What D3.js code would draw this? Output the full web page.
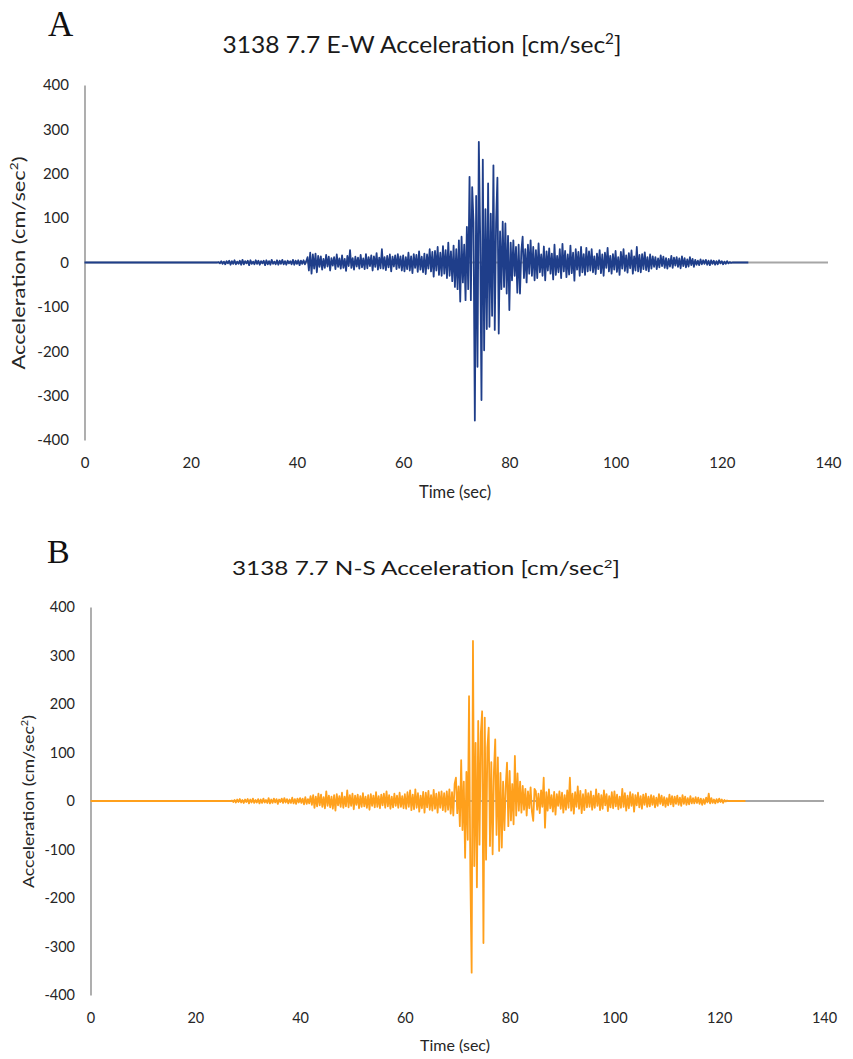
<!DOCTYPE html>
<html>
<head>
<meta charset="utf-8">
<script src="https://cdn.jsdelivr.net/npm/d3@7"></script>
<style>
  body { margin: 0; background: #fff; }
  svg { display: block; font-family: Lato, "Open Sans", sans-serif; }
</style>
</head>
<body>
<div id="chart"></div>
<script>
// Time axis and value axis ticks
const xTicks = [0, 20, 40, 60, 80, 100, 120, 140];
const yTicks = [-400, -300, -200, -100, 0, 100, 200, 300, 400];

// Records are sampled every 0.25 s from 25 s to 125 s (zero before and after)
const timeStart = 25;
const timeStep = 0.25;

// E-W acceleration (cm/sec^2)
const ewAccel = [
  // 25-42 s
  0, 1, -2, 3, -3, 2, -4, 3, -2, 4,
  -5, 3, -3, 5, -4, 2, -3, 4, -5, 6,
  -4, 3, -2, 4, -6, 5, -3, 2, -4, 5,
  -3, 4, -5, 3, -2, 4, -6, 5, -4, 3,
  -5, 6, -3, 2, -4, 5, -5, 4, -3, 6,
  -4, 3, -5, 4, -2, 3, -4, 6, -5, 4,
  -3, 5, -6, 4, -3, 5, -4, 3,
  // 42-60 s
  12, -18, 22, -25, 18, -14, 20, -22, 15, -10,
  14, -16, 8, -12, 17, -9, 13, -18, 10, -7,
  12, -15, 18, -10, 9, -14, 16, -12, 8, -19,
  15, -8, 28, -12, 10, -16, 13, -9, 11, -14,
  17, -11, 9, -15, 19, -13, 12, -8, 16, -18,
  14, -10, 21, -16, 11, -13, 30, -14, 12, -17,
  15, -11, 18, -20, 13, -9, 16, -15, 19, -12,
  14, -18,
  // 60-68 s
  16, -20, 12, -15, 22, -18, 14, -24, 19, -12,
  17, -21, 25, -16, 13, -22, 20, -26, 18, -14,
  30, -20, 24, -32, 26, -18, 35, -28, 22, -30,
  37, -25,
  // 68-72 s
  28, -35, 45, -30, 25, -42, 38, -55, 30, -60, 50, -88, 58, -45, 40, -85,
  // 72-80 s
  80, -60, 193, -85, 170, 90, -356, 150, -235, 272, 60, -310, 232, -198, 120, -150,
  178, -145, 110, -120, 219, -152, 90, 191, -160, 70, -60, 92, -55, 88, -70, 60,
  // 80-85 s
  -107, 45, -40, 50, -30, 35, -68, 40, -70, 25, 58, -35, 30, -45, 40, -25, 50, -30, 35, -40,
  // 85-95 s
  28, -35, 43, -22, 18, -30, 36, -40, 25, -18,
  32, -25, 20, -38, 40, -28, 15, -22, 30, -35,
  42, -20, 26, -33, 18, -27, 38, -24, 22, -41,
  30, -16, 24, -30, 35, -22, 19, -28, 33, -20,
  // 95-107 s
  25, -18, 30, -22, 14, -26, 20, -15, 28, -24,
  18, -30, 22, -12, 33, -20, 15, -25, 19, -16,
  26, -21, 12, -28, 24, -14, 30, -19, 16, -23,
  21, -13, 27, -25, 14, -18, 35, -20, 17, -22,
  19, -15, 23, -17, 12, -20, 18, -14,
  // 107-115 s
  14, -10, 12, -15, 9, -11, 16, -8, 13, -12,
  10, -14, 8, -9, 15, -12, 11, -7, 12, -10,
  9, -13, 14, -8, 10, -11, 7, -9, 12, -6,
  8, -10,
  // 115-122 s
  6, -5, 4, -6, 7, -4, 5, -3, 6, -5,
  4, -6, 5, -3, 4, -5, 3, -4, 5, -2,
  3, -4, 2, -3, 3, -2, 1, -1,
  // 122-125 s
  0, 0, 0, 0, 0, 0, 0, 0, 0, 0, 0, 0, 0
];

// N-S acceleration (cm/sec^2)
const nsAccel = [
  // 25-42 s
  0, 0, 0, 0, 0, 0, 0, 0, 1, -2,
  2, -3, 3, -2, 4, -3, 2, -4, 3, -2,
  4, -5, 3, -3, 5, -4, 2, -3, 4, -5,
  3, -4, 5, -3, 2, -4, 6, -5, 3, -4,
  5, -3, 4, -6, 3, -2, 5, -4, 6, -3,
  4, -5, 3, -4, 7, -5, 4, -6, 5, -3,
  6, -4, 5, -7, 8, -6, 4, -5,
  // 42-60 s
  10, -8, 12, -14, 9, -11, 15, -9, 13, -12,
  8, -15, 20, -10, 11, -13, 9, -16, 12, -20,
  14, -9, 10, -12, 17, -14, 9, -11, 22, -13,
  12, -10, 15, -17, 11, -8, 13, -15, 10, -12,
  16, -11, 9, -14, 12, -18, 14, -10, 11, -13,
  18, -12, 10, -15, 13, -9, 15, -14, 20, -11,
  12, -16, 9, -13, 15, -10, 11, -14, 17, -12,
  10, -15,
  // 60-68 s
  14, -16, 18, -12, 22, -19, 13, -17, 24, -14,
  16, -22, 11, -15, 19, -24, 17, -13, 21, -18,
  12, -20, 23, -16, 15, -24, 18, -14, 20, -19,
  16, -22,
  // 68-72 s
  20, -18, 24, -26, 18, -30, 35, 48, -25, 30, -52, 84, -60, 40, -117, 60,
  // 72-80 s
  -80, 216, -150, -354, 330, -134, 120, -178, 165, -90, 140, 185, -293, 172, -121, 110,
  151, -93, 80, -110, 60, 127, -70, 90, -103, 58, -96, 40, -60, 30, 79, -52,
  // 80-85 s
  62, -40, 35, -48, 93, -30, 57, -20, 40, -24, 31, -18, 25, -30, 20, -15, 28, -22, -41, 25,
  // 85-95 s
  20, -18, 15, -25, 22, -12, 48, -55, 18, -20,
  24, -15, 12, -22, 19, -28, 14, -10, 20, -16,
  17, -24, 12, -18, 22, -14, 48, -20, 15, -26,
  18, -12, 30, -16, 21, -25, 14, -19, 23, -13,
  // 95-107 s
  16, -12, 20, -18, 11, -14, 24, -10, 15, -19,
  12, -16, 22, -9, 14, -21, 10, -13, 18, -15,
  20, -11, 13, -17, 9, -14, 25, -12, 16, -20,
  11, -15, 18, -10, 14, -22, 12, -9, 17, -13,
  10, -16, 13, -8, 15, -12, 9, -11,
  // 107-115 s
  12, -8, 10, -13, 7, -10, 14, -6, 11, -9,
  8, -12, 6, -9, 13, -7, 10, -11, 9, -6,
  11, -8, 7, -10, 12, -6, 9, -8, 6, -7,
  10, -5,
  // 115-122 s
  6, -5, 8, -4, 7, -6, 5, -8, 4, -6,
  7, -3, 15, -5, 6, -4, 3, -5, 4, -3,
  5, -2, 3, -4, 2, -1, 1, 0,
  // 122-125 s
  0, 0, 0, 0, 0, 0, 0, 0, 0, 0, 0, 0, 0
];

const width = 853;
const height = 1059;
const axisGray = '#a6a6a6';
const textColor = '#262626';

// Layout of the two panels
const panels = [
  {
    letter: 'A', letterPos: [48, 36], letterSize: 35,
    title: '3138 7.7 E-W Acceleration [cm/sec', titlePos: [422, 53], titleSize: 23.5, titleLen: 399,
    values: ewAccel, color: '#1f3e8a',
    xRange: [84.5, 828], yRange: [440, 85],
    tickSize: 15,
    yLabelPos: [24.5, 263], yLabelSize: 18, yLabelLen: 213,
    xLabelPos: [455, 498], xLabelSize: 16.5
  },
  {
    letter: 'B', letterPos: [47, 563], letterSize: 34,
    title: '3138 7.7 N-S Acceleration [cm/sec', titlePos: [426, 575], titleSize: 19.5, titleLen: 388,
    values: nsAccel, color: '#ffa01c',
    xRange: [90.5, 824], yRange: [995, 607],
    tickSize: 14.5,
    yLabelPos: [34, 801.5], yLabelSize: 15, yLabelLen: 173,
    xLabelPos: [455, 1051], xLabelSize: 16
  }
];

const svg = d3.select('#chart')
  .append('svg')
  .attr('width', width)
  .attr('height', height);

svg.append('rect').attr('width', width).attr('height', height).attr('fill', '#fff');

function drawPanel(p) {
  const x = d3.scaleLinear().domain([0, 140]).range(p.xRange);
  const y = d3.scaleLinear().domain([-400, 400]).range(p.yRange);
  const g = svg.append('g');

  // panel letter
  g.append('text')
    .attr('x', p.letterPos[0]).attr('y', p.letterPos[1])
    .attr('font-family', '"Liberation Serif", "DejaVu Serif", serif')
    .attr('font-size', p.letterSize)
    .attr('fill', '#111')
    .text(p.letter);

  // chart title with superscript
  const title = g.append('text')
    .attr('x', p.titlePos[0]).attr('y', p.titlePos[1])
    .attr('text-anchor', 'middle')
    .attr('font-size', p.titleSize)
    .attr('fill', '#1a1a1a')
    .attr('textLength', p.titleLen)
    .attr('lengthAdjust', 'spacingAndGlyphs');
  title.append('tspan').text(p.title);
  title.append('tspan').attr('dy', -p.titleSize * 0.38).attr('font-size', p.titleSize * 0.62).text('2');
  title.append('tspan').attr('dy', p.titleSize * 0.38).text(']');

  // y axis (the gray vertical line plus labels), plain hyphen minus like the source
  g.append('g')
    .attr('transform', `translate(${x(0)},0)`)
    .call(d3.axisLeft(y).tickValues(yTicks).tickSize(0).tickPadding(15.5).tickFormat((d) => String(d)))
    .call((s) => s.select('.domain').attr('stroke', axisGray).attr('stroke-width', 1.8))
    .attr('font-family', null)
    .attr('font-size', p.tickSize)
    .selectAll('text').attr('fill', textColor);

  // x tick labels sit below the plot, no line
  g.append('g')
    .attr('transform', `translate(0,${y(-400)})`)
    .call(d3.axisBottom(x).tickValues(xTicks).tickSize(0).tickPadding(17.5).tickFormat((d) => String(d)))
    .call((s) => s.select('.domain').remove())
    .attr('font-family', null)
    .attr('font-size', p.tickSize)
    .selectAll('text').attr('fill', textColor);

  // horizontal axis line at zero
  g.append('line')
    .attr('x1', x(0)).attr('x2', x(140))
    .attr('y1', y(0)).attr('y2', y(0))
    .attr('stroke', axisGray)
    .attr('stroke-width', 1.8);

  // acceleration trace
  const series = [{ t: 0, v: 0 }].concat(
    p.values.map((v, i) => ({ t: timeStart + i * timeStep, v }))
  );
  g.append('path')
    .datum(series)
    .attr('fill', 'none')
    .attr('stroke', p.color)
    .attr('stroke-width', 1.8)
    .attr('stroke-linejoin', 'round')
    .attr('d', d3.line().x((d) => x(d.t)).y((d) => y(d.v)));

  // axis titles
  g.append('text')
    .attr('x', p.xLabelPos[0]).attr('y', p.xLabelPos[1])
    .attr('text-anchor', 'middle')
    .attr('font-size', p.xLabelSize)
    .attr('fill', textColor)
    .text('Time (sec)');

  const yLabel = g.append('text')
    .attr('transform', `translate(${p.yLabelPos[0]},${p.yLabelPos[1]}) rotate(-90)`)
    .attr('text-anchor', 'middle')
    .attr('font-size', p.yLabelSize)
    .attr('fill', textColor)
    .attr('textLength', p.yLabelLen)
    .attr('lengthAdjust', 'spacingAndGlyphs');
  yLabel.append('tspan').text('Acceleration (cm/sec');
  yLabel.append('tspan').attr('dy', -p.yLabelSize * 0.38).attr('font-size', p.yLabelSize * 0.62).text('2');
  yLabel.append('tspan').attr('dy', p.yLabelSize * 0.38).text(')');
}

panels.forEach(drawPanel);
</script>
</body>
</html>
